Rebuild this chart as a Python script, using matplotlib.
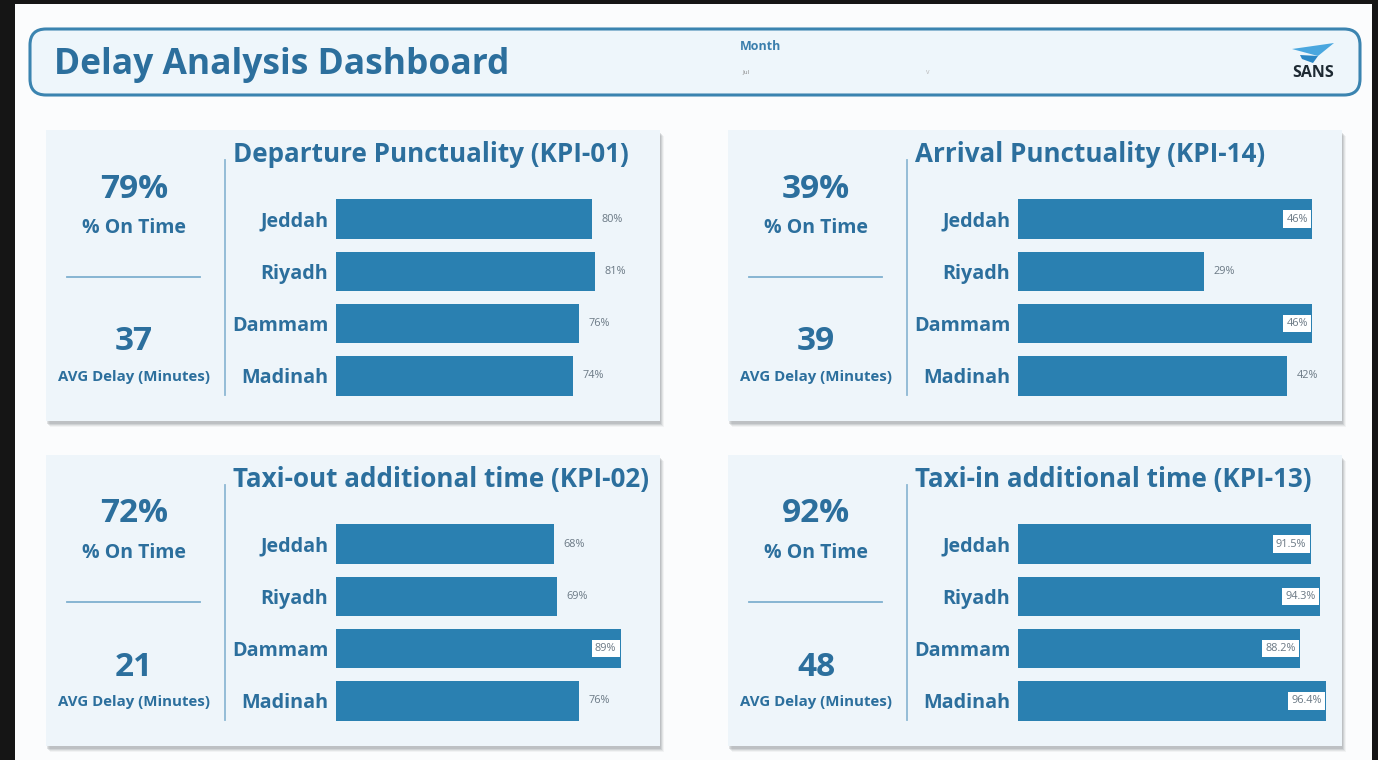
import matplotlib
matplotlib.use("Agg")
import matplotlib.pyplot as plt
from matplotlib.patches import FancyBboxPatch, Rectangle, Polygon

plt.rcParams['font.family'] = ['Open Sans', 'DejaVu Sans']

# data
cities = ["Jeddah", "Riyadh", "Dammam", "Madinah"]
panel_titles = ["Departure Punctuality (KPI-01)", "Arrival Punctuality (KPI-14)",
                "Taxi-out additional time (KPI-02)", "Taxi-in additional time (KPI-13)"]
dep_punct = [80, 81, 76, 74]
arr_punct = [46, 29, 46, 42]
taxi_out = [68, 69, 89, 76]
taxi_in = [91.5, 94.3, 88.2, 96.4]
on_time = ["79%", "39%", "72%", "92%"]
avg_delay = ["37", "39", "21", "48"]
axis_max = [100, 50, 100, 100]
month = "Jul"

# colours
BLUE_TXT = "#2c6f9d"
BAR = "#2a80b1"
PANEL = "#eef5fa"
PAGE = "#fbfcfd"

W, H = 1378, 760
fig = plt.figure(figsize=(W / 100, H / 100), dpi=100)
fig.patch.set_facecolor("#151515")

bg = fig.add_axes([0, 0, 1, 1])
bg.set_xlim(0, W)
bg.set_ylim(H, 0)
bg.axis("off")

# page
bg.add_patch(Rectangle((15, 4), 1357, 760, facecolor=PAGE, edgecolor="none"))

# header
bg.add_patch(FancyBboxPatch((30, 29), 1330, 66, boxstyle="round,pad=0,rounding_size=16",
                            facecolor="#eef6fb", edgecolor="#3b84b0", lw=2.2))
bg.text(54, 65, "Delay Analysis Dashboard", fontsize=25.5, fontweight="bold",
        color=BLUE_TXT, va="center", ha="left")
bg.text(740, 46, "Month", fontsize=9, fontweight="bold", color="#3b7fad", va="center")
bg.text(742, 72, month, fontsize=4.5, color="#888888", va="center")
bg.text(928, 72, "v", fontsize=5, color="#bbbbbb", va="center", ha="center")
# logo
bg.add_patch(Polygon([(1292, 49), (1334, 43), (1318, 56)], closed=True,
                     facecolor="#4aa7df", edgecolor="none"))
bg.add_patch(Polygon([(1300, 55), (1318, 56), (1313, 63), (1302, 59)], closed=True,
                     facecolor="#2a86c4", edgecolor="none"))
bg.text(1313, 73, "SANS", fontsize=11.5, fontweight="bold", color="#1e2a33",
        ha="center", va="center")


def px_axes(x0, y0, w, h):
    return fig.add_axes([x0 / W, 1 - (y0 + h) / H, w / W, h / H])


origins = [(46, 130), (728, 130), (46, 455), (728, 455)]
series = [dep_punct, arr_punct, taxi_out, taxi_in]
PW, PH = 614, 291

for i, (ox, oy) in enumerate(origins):
    # shadow + panel
    for k, a in enumerate([0.08, 0.12, 0.18, 0.22]):
        off = 6 - k
        bg.add_patch(Rectangle((ox + off - 2, oy + off), PW, PH, facecolor="#7d8388",
                               alpha=a, edgecolor="none"))
    bg.add_patch(Rectangle((ox, oy), PW, PH, facecolor=PANEL, edgecolor="none"))

    # KPI side
    cx = ox + 88
    bg.text(cx, oy + 59, on_time[i], fontsize=24, fontweight="bold", color=BLUE_TXT,
            ha="center", va="center")
    bg.text(cx, oy + 98, "% On Time", fontsize=14, fontweight="bold", color=BLUE_TXT,
            ha="center", va="center")
    bg.plot([ox + 21, ox + 154], [oy + 147, oy + 147], color="#7fb0cf", lw=1.3)
    bg.text(cx, oy + 212, avg_delay[i], fontsize=24, fontweight="bold", color=BLUE_TXT,
            ha="center", va="center")
    bg.text(cx, oy + 247, "AVG Delay (Minutes)", fontsize=10.8, fontweight="bold",
            color=BLUE_TXT, ha="center", va="center")
    bg.plot([ox + 179, ox + 179], [oy + 30, oy + 265], color="#8db8d4", lw=1.3)
    bg.text(ox + 187, oy + 25, panel_titles[i], fontsize=18.7, fontweight="bold",
            color=BLUE_TXT, ha="left", va="center")

    # bars
    ax = px_axes(ox + 290, oy + 63, 320, 209)
    ax.patch.set_alpha(0)
    vals = series[i]
    ypos = list(range(len(cities)))
    ax.barh(ypos, vals, height=0.76, color=BAR)
    ax.set_xlim(0, axis_max[i])
    ax.set_ylim(len(cities) - 0.5, -0.5)
    ax.set_yticks(ypos)
    ax.set_yticklabels(cities, fontsize=14.2, fontweight="bold", color=BLUE_TXT)
    ax.tick_params(axis="y", length=0, pad=5.5)
    ax.set_xticks([])
    for s in ax.spines.values():
        s.set_visible(False)
    for y, v in zip(ypos, vals):
        lab = f"{v:g}%"
        if v / axis_max[i] > 0.87:
            ax.text(v - axis_max[i] * 0.014, y, lab, fontsize=7.8, color="#6a7884",
                    ha="right", va="center",
                    bbox=dict(boxstyle="square,pad=0.3", fc="white", ec="none"))
        else:
            ax.text(v + axis_max[i] * 0.03, y, lab, fontsize=7.8, color="#6a7884",
                    ha="left", va="center")

fig.savefig("out.png", dpi=100, facecolor=fig.get_facecolor())
